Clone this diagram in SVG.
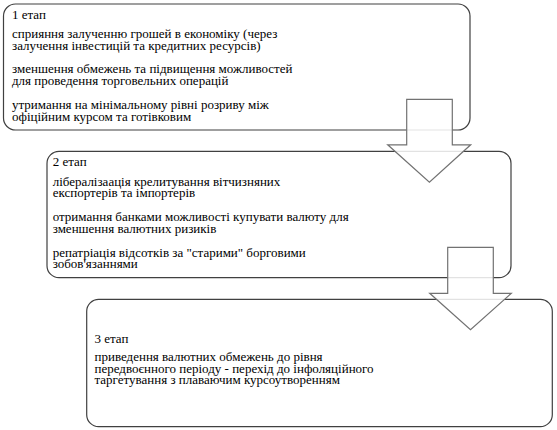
<svg xmlns="http://www.w3.org/2000/svg" width="557" height="430" viewBox="0 0 557 430">
<style>
.box{fill:#ffffff;stroke:#404040;stroke-width:1.2}
.arrow{fill:#ffffff;fill-opacity:0.85;stroke:#727272;stroke-width:1.2}
text{font-family:"Liberation Serif","Times New Roman",serif;font-size:13px;fill:#000000}
</style>
<rect width="557" height="430" fill="#ffffff"/>
<g id="stage1">
<rect class="box" x="3.5" y="4" width="466.5" height="126" rx="12"/>
<text x="12" y="18.5">1 етап</text>
<text x="12" y="37.8">сприяння залученню грошей в економіку (через</text>
<text x="12" y="49.5">залучення інвестицій та кредитних ресурсів)</text>
<text x="12" y="73">зменшення обмежень та підвищення можливостей</text>
<text x="12" y="84.7">для проведення торговельних операцій</text>
<text x="12" y="108.8">утримання на мінімальному рівні розриву між</text>
<text x="12" y="120.5">офіційним курсом та готівковим</text>
</g>
<g id="stage2">
<rect class="box" x="47" y="151.4" width="464" height="126.3" rx="12"/>
<text x="52.7" y="166.2">2 етап</text>
<text x="52.7" y="185.6">лібералізаація крелитування вітчизняних</text>
<text x="52.7" y="197.3">експортерів та імпортерів</text>
<text x="52.7" y="220.8">отримання банками можливості купувати валюту для</text>
<text x="52.7" y="232.5">зменшення валютних ризиків</text>
<text x="52.7" y="256.6">репатріація відсотків за "старими" борговими</text>
<text x="52.7" y="268.3">зобов'язаннями</text>
</g>
<g id="stage3">
<rect class="box" x="86.7" y="299.3" width="465.6" height="127.4" rx="12"/>
<text x="94.5" y="342.5">3 етап</text>
<text x="94.5" y="361">приведення валютних обмежень до рівня</text>
<text x="94.5" y="372.7">передвоєнного періоду - перехід до інфоляційного</text>
<text x="94.5" y="384.4">таргетування з плаваючим курсоутворенням</text>
</g>
<g id="connectors">
<polygon class="arrow" points="406.7,99.3 452.3,99.3 452.3,144.8 470.7,144.8 429.4,182.3 387.7,144.8 406.7,144.8"/>
<polygon class="arrow" points="447.7,247.3 493.3,247.3 493.3,293.3 511.3,293.3 470.5,329.8 429.7,293.3 447.7,293.3"/>
</g>
</svg>
